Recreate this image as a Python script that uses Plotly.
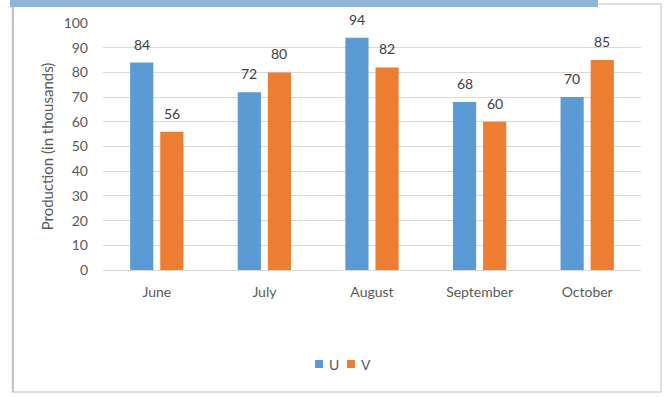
import plotly.graph_objects as go

months = ["June", "July", "August", "September", "October"]
u_values = [84, 72, 94, 68, 70]
v_values = [56, 80, 82, 60, 85]
y_ticks = [0, 10, 20, 30, 40, 50, 60, 70, 80, 90, 100]
series_names = ["U", "V"]

W, H = 672, 397
L, R, T, B = 103, 31, 23, 127
pw, ph = W - L - R, H - T - B

def px(x):
    return (x - L) / pw

def py(y):
    return (H - B - y) / ph

FONT = "Lato, 'Open Sans', sans-serif"
BLUE = "#5B9BD5"
ORANGE = "#ED7D31"
colors = [BLUE, ORANGE]

fig = go.Figure()
for name, vals, col in zip(series_names, [u_values, v_values], colors):
    fig.add_trace(go.Bar(name=name, x=months, y=vals,
                         marker=dict(color=col, line=dict(width=0)), showlegend=False))

annotations = []
for i, vals in enumerate([u_values, v_values]):
    for m, v in zip(months, vals):
        annotations.append(dict(
            x=m, y=v, xref="x", yref="y", text=str(v), showarrow=False,
            xshift=(-15 if i == 0 else 15), yshift=8, yanchor="bottom",
            font=dict(family=FONT, size=14, color="#404040")))

shapes = [
    dict(type="rect", xref="paper", yref="paper",
         x0=px(12.5), x1=px(661), y0=py(392), y1=py(4),
         line=dict(color="#d4d4d4", width=1.5), layer="below"),
    dict(type="line", xref="paper", yref="paper",
         x0=px(13), x1=px(13), y0=py(392), y1=py(4),
         line=dict(color="#c4c4c4", width=2), layer="below"),
    dict(type="rect", xref="paper", yref="paper",
         x0=px(10), x1=px(598), y0=py(7), y1=py(-2),
         line=dict(width=0), fillcolor="#8fb5d8"),
]

# custom compact legend (square swatch + label)
legend_sq = [(315, 323), (347, 355)]
for (x0, x1), name, col in zip(legend_sq, series_names, colors):
    shapes.append(dict(type="rect", xref="paper", yref="paper",
                       x0=px(x0), x1=px(x1), y0=py(368), y1=py(360),
                       line=dict(width=0), fillcolor=col))
    annotations.append(dict(x=px(x1 + 4), y=py(364), xref="paper", yref="paper",
                            text=name, showarrow=False, xanchor="left", yanchor="middle",
                            font=dict(family=FONT, size=14, color="#595959")))

fig.update_layout(
    width=W, height=H,
    margin=dict(l=L, r=R, t=T, b=B),
    paper_bgcolor="white", plot_bgcolor="white",
    barmode="group", bargap=0.44, bargroupgap=0.23,
    font=dict(family=FONT, color="#595959", size=14),
    showlegend=False,
    annotations=annotations,
    shapes=shapes,
)
fig.update_xaxes(showgrid=False, showline=True, linecolor="#d9d9d9", linewidth=1,
                 ticks="", tickfont=dict(size=14, color="#595959"), ticklabelstandoff=9)
fig.update_yaxes(range=[0, 100], tickvals=y_ticks, showgrid=True, gridcolor="#d9d9d9",
                 gridwidth=1, zeroline=False, showline=False, ticks="",
                 tickfont=dict(size=14, color="#595959"), ticklabelstandoff=14,
                 title=dict(text="Production (in thousands)", standoff=6,
                            font=dict(size=15, color="#595959")))

fig.write_html("out.html", config={"displayModeBar": False},
               post_script="document.body.style.margin='0';")
